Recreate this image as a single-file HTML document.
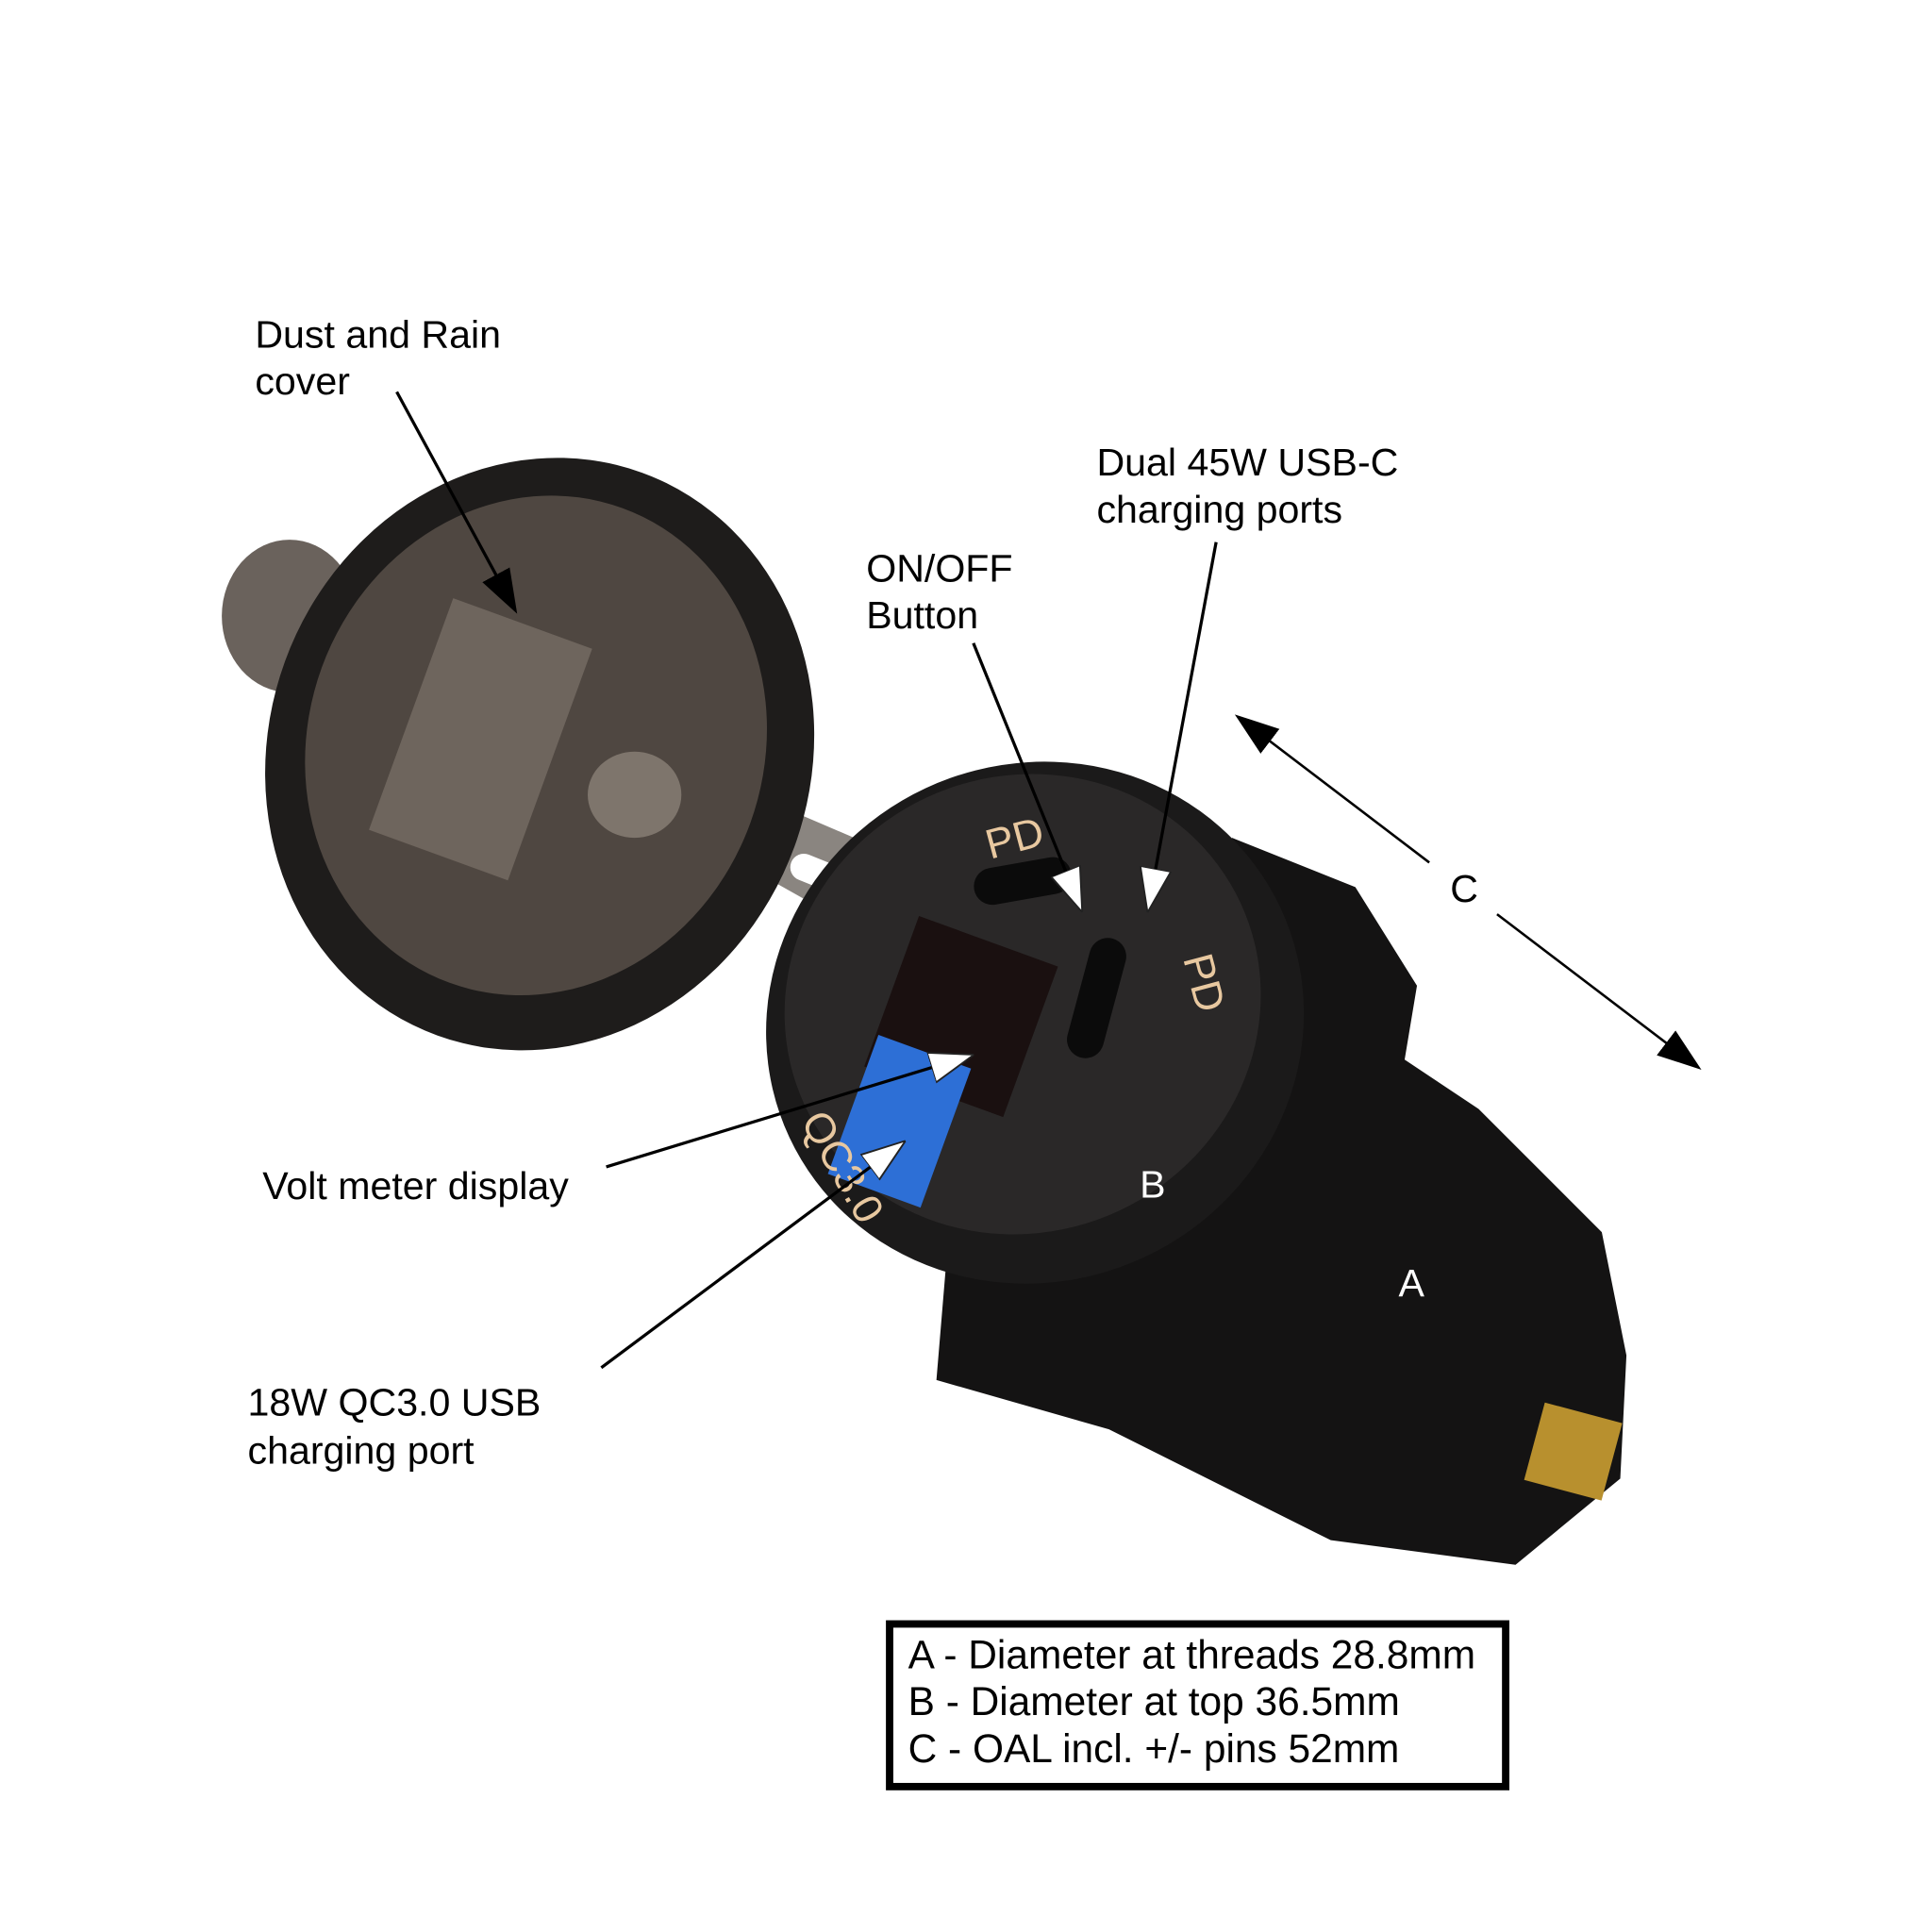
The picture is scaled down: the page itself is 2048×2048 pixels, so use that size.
<!DOCTYPE html>
<html><head><style>html,body{margin:0;padding:0;background:#fff}svg{display:block}</style></head>
<body>
<svg width="2048" height="2048" viewBox="0 0 1568 1568" xmlns="http://www.w3.org/2000/svg" font-family="Liberation Sans, sans-serif">
<rect width="1568" height="1568" fill="#fff"/>
<defs>
<marker id="ab" viewBox="0 0 10 10" refX="9" refY="5" markerWidth="36" markerHeight="36" markerUnits="userSpaceOnUse" orient="auto-start-reverse"><path d="M0,1.5 L10,5 L0,8.5 z" fill="#000"/></marker>
<marker id="aw" viewBox="0 0 10 10" refX="9" refY="5" markerWidth="36" markerHeight="36" markerUnits="userSpaceOnUse" orient="auto"><path d="M0,1.5 L10,5 L0,8.5 z" fill="#fff" stroke="#222" stroke-width="0.4"/></marker>
</defs>
<!-- metal strap -->
<path d="M600,640 L740,700 L760,790 L600,700 Z" fill="#8a8580"/>
<rect x="640" y="700" width="60" height="22" rx="11" fill="#fff" transform="rotate(22 670 711)"/>
<!-- tab -->
<ellipse cx="235" cy="500" rx="55" ry="62" fill="#6a625c"/>
<!-- cover -->
<ellipse cx="438" cy="612" rx="220" ry="243" transform="rotate(20 438 612)" fill="#1e1c1b"/>
<ellipse cx="435" cy="605" rx="185" ry="205" transform="rotate(20 435 605)" fill="#4f4741"/>
<rect x="330" y="500" width="120" height="200" fill="#6e655d" transform="rotate(20 390 600)"/>
<ellipse cx="515" cy="645" rx="38" ry="35" fill="#7e756c"/>
<!-- socket body -->
<path d="M1000,680 L1100,720 L1150,800 L1140,860 L1200,900 L1300,1000 L1320,1100 L1315,1200 L1230,1270 L1080,1250 L900,1160 L760,1120 L770,1000 Z" fill="#141313"/>
<rect x="1245" y="1145" width="65" height="65" fill="#b8902e" transform="rotate(15 1275 1175)"/>
<ellipse cx="840" cy="830" rx="220" ry="210" transform="rotate(-25 840 830)" fill="#1b1a1a"/>
<ellipse cx="830" cy="815" rx="195" ry="185" transform="rotate(-25 830 815)" fill="#2a2828"/>
<rect x="720" y="760" width="120" height="130" fill="#1a1010" transform="rotate(20 780 825)"/>
<rect x="690" y="850" width="80" height="120" fill="#2d6fd6" transform="rotate(20 730 910)"/>
<rect x="790" y="700" width="80" height="30" rx="15" fill="#0b0b0b" transform="rotate(-10 830 715)"/>
<rect x="875" y="760" width="30" height="100" rx="15" fill="#0b0b0b" transform="rotate(15 890 810)"/>
<text x="800" y="690" fill="#e8c8a0" font-size="34" transform="rotate(-15 830 680)">PD</text>
<text x="920" y="770" fill="#e8c8a0" font-size="34" transform="rotate(75 935 800)">PD</text>
<text x="635" y="925" fill="#e8c8a0" font-size="34" transform="rotate(60 655 930)">QC3.0</text>
<!-- labels -->
<g font-size="31.5" fill="#000">
<text x="207" y="282">Dust and Rain</text><text x="207" y="320">cover</text>
<text x="890" y="386">Dual 45W USB-C</text><text x="890" y="424">charging ports</text>
<text x="703" y="472">ON/OFF</text><text x="703" y="510">Button</text>
<text x="213" y="973">Volt meter display</text>
<text x="201" y="1149">18W QC3.0 USB</text><text x="201" y="1188">charging port</text>
<text x="1177" y="732">C</text>
<text x="925" y="972" fill="#fff">B</text>
<text x="1135" y="1052" fill="#fff">A</text>
</g>
<!-- arrows -->
<line x1="322" y1="318" x2="418" y2="495" stroke="#000" stroke-width="2.5" marker-end="url(#ab)"/>
<line x1="790" y1="522" x2="877" y2="737" stroke="#000" stroke-width="2.5" marker-end="url(#aw)"/>
<line x1="987" y1="440" x2="932" y2="737" stroke="#000" stroke-width="2.5" marker-end="url(#aw)"/>
<line x1="492" y1="947" x2="787" y2="857" stroke="#000" stroke-width="2.5" marker-end="url(#aw)"/>
<line x1="488" y1="1110" x2="732" y2="928" stroke="#000" stroke-width="2.5" marker-end="url(#aw)"/>
<line x1="1160" y1="700" x2="1005" y2="582" stroke="#000" stroke-width="2" marker-end="url(#ab)"/>
<line x1="1215" y1="742" x2="1378" y2="866" stroke="#000" stroke-width="2" marker-end="url(#ab)"/>
<!-- box -->
<rect x="722" y="1318" width="500" height="132" fill="#fff" stroke="#000" stroke-width="6"/>
<g font-size="32.5" fill="#000">
<text x="737" y="1354">A - Diameter at threads 28.8mm</text>
<text x="737" y="1392">B - Diameter at top 36.5mm</text>
<text x="737" y="1430">C - OAL incl. +/- pins 52mm</text>
</g>
</svg>
</body></html>
